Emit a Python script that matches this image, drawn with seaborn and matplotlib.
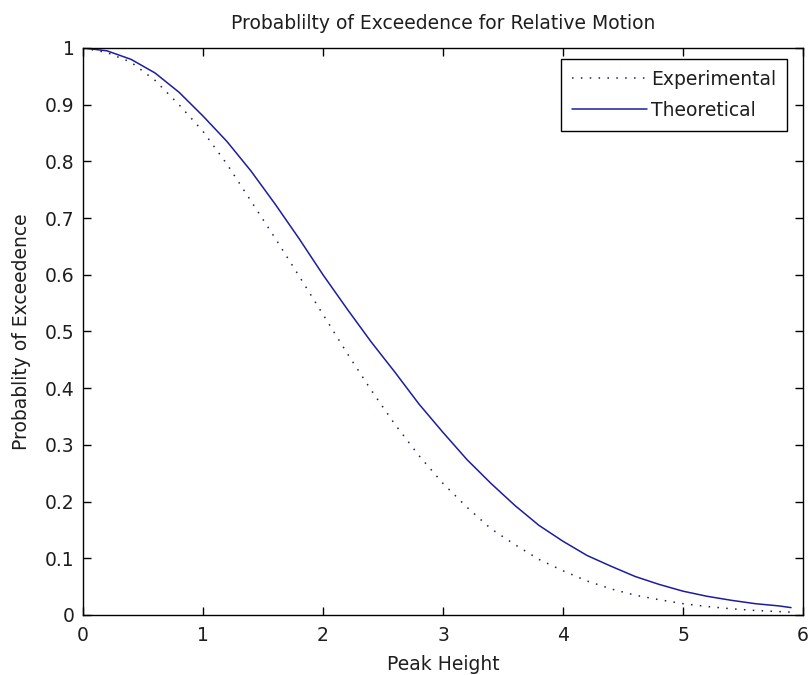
import matplotlib
matplotlib.use("Agg")
import matplotlib.pyplot as plt
import seaborn as sns
import pandas as pd

# Peak height sample points
peak_height = [0.0, 0.2, 0.4, 0.6, 0.8, 1.0, 1.2, 1.4, 1.6, 1.8, 2.0, 2.2, 2.4, 2.6,
               2.8, 3.0, 3.2, 3.4, 3.6, 3.8, 4.0, 4.2, 4.4, 4.6, 4.8, 5.0, 5.2, 5.4,
               5.6, 5.8, 5.9]

# Measured probability of exceedence
experimental = [1.0, 0.992, 0.975, 0.943, 0.900, 0.853, 0.795, 0.730, 0.665, 0.598,
                0.530, 0.462, 0.397, 0.336, 0.281, 0.232, 0.190, 0.152, 0.124, 0.098,
                0.078, 0.060, 0.046, 0.035, 0.027, 0.020, 0.015, 0.011, 0.008, 0.006,
                0.005]

# Predicted probability of exceedence
theoretical = [1.0, 0.995, 0.980, 0.956, 0.922, 0.880, 0.835, 0.783, 0.725, 0.664,
               0.600, 0.540, 0.482, 0.428, 0.372, 0.322, 0.274, 0.232, 0.193, 0.158,
               0.130, 0.105, 0.086, 0.068, 0.054, 0.042, 0.033, 0.026, 0.020, 0.016,
               0.013]

x_ticks = [0, 1, 2, 3, 4, 5, 6]
y_ticks = [0, 0.1, 0.2, 0.3, 0.4, 0.5, 0.6, 0.7, 0.8, 0.9, 1]
y_tick_labels = ["0", "0.1", "0.2", "0.3", "0.4", "0.5", "0.6", "0.7", "0.8", "0.9", "1"]

sns.set_theme(style="white")
plt.rcParams["font.family"] = ["DejaVu Sans"]

FS = 13.5
TXT = "#1e1e1e"

df_exp = pd.DataFrame({"Peak Height": peak_height, "P": experimental})
df_th = pd.DataFrame({"Peak Height": peak_height, "P": theoretical})

fig = plt.figure(figsize=(8.09, 6.75), dpi=100)
ax = fig.add_axes([0.1026, 0.0889, 0.8900, 0.8400])

sns.lineplot(data=df_exp, x="Peak Height", y="P", ax=ax, color="#1c1c5c",
             linewidth=1.1, linestyle=(0, (1, 4.8)), label="Experimental")
sns.lineplot(data=df_th, x="Peak Height", y="P", ax=ax, color="#1c1ca0",
             linewidth=1.1, label="Theoretical")

ax.set_xlim(0, 6)
ax.set_ylim(0, 1)
ax.set_xticks(x_ticks)
ax.set_xticklabels([str(t) for t in x_ticks])
ax.set_yticks(y_ticks)
ax.set_yticklabels(y_tick_labels)

for side in ["left", "right", "top", "bottom"]:
    ax.spines[side].set_visible(True)
    ax.spines[side].set_color("black")
    ax.spines[side].set_linewidth(1.0)

ax.tick_params(axis="both", which="major", direction="in", length=6, width=1,
               color="black", labelsize=FS, labelcolor=TXT,
               top=True, right=True, bottom=True, left=True)
ax.tick_params(axis="x", pad=8)
ax.tick_params(axis="y", pad=6)

ax.set_xlabel("Peak Height", fontsize=FS, color=TXT, labelpad=7)
ax.set_ylabel("Probablity of Exceedence", fontsize=FS, color=TXT, labelpad=10)
ax.set_title("Probablilty of Exceedence for Relative Motion", fontsize=FS,
             color=TXT, pad=14)

leg = ax.legend(loc="upper right", bbox_to_anchor=(0.978, 0.981), fontsize=FS,
                frameon=True, fancybox=False, shadow=False, handlelength=4.0,
                handletextpad=0.2, borderpad=0.6, labelspacing=0.62,
                borderaxespad=0.0)
leg.get_frame().set_edgecolor("black")
leg.get_frame().set_linewidth(1.0)
leg.get_frame().set_facecolor("white")
leg.get_frame().set_alpha(1.0)
for t in leg.get_texts():
    t.set_color(TXT)

fig.savefig("out.png", dpi=100, facecolor="white")
